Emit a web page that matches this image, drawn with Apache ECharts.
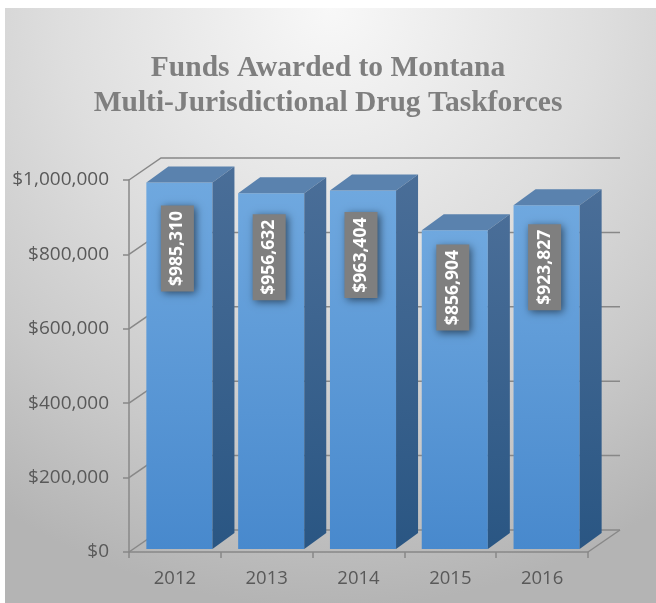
<!DOCTYPE html>
<html>
<head>
<meta charset="utf-8">
<script src="https://cdn.jsdelivr.net/npm/echarts@6/dist/echarts.min.js"></script>
<style>html,body{margin:0;padding:0;background:#fff;}#c{width:656px;height:603px;}</style>
</head>
<body>
<div id="c"></div>
<script>
const categories = ['2012', '2013', '2014', '2015', '2016'];
const funds = [985310, 956632, 963404, 856904, 923827];
const yTicks = [0, 200000, 400000, 600000, 800000, 1000000];
const titleLines = ['Funds Awarded to Montana', 'Multi-Jurisdictional Drug Taskforces'];

const fmt = v => '$' + Number(v).toLocaleString('en-US');

// 3D geometry (pixels)
const FLOOR_DX = 32, FLOOR_DY = -22;
const BAR_OFF_X = 4.5, BAR_OFF_Y = -3;
const BAR_DX = 22, BAR_DY = -16;
const BAR_FRAC = 0.72;
const GRID_COLOR = '#888888';

const chart = echarts.init(document.getElementById('c'), null, {renderer: 'canvas'});

const option = {
  animation: false,
  graphic: [{
    type: 'rect',
    z: -10,
    silent: true,
    shape: {x: 5, y: 8, width: 651, height: 600},
    style: {
      fill: new echarts.graphic.RadialGradient(0.5, 0.0, 1.0, [
        {offset: 0, color: '#f8f8f8'},
        {offset: 0.45, color: '#dedede'},
        {offset: 0.75, color: '#c9c9c9'},
        {offset: 1, color: '#b4b4b4'}
      ])
    }
  }],
  title: {
    text: titleLines.join('\n'),
    left: 'center',
    top: 46,
    textStyle: {
      fontFamily: 'Liberation Serif',
      fontWeight: 'bold',
      fontSize: 29.5,
      lineHeight: 35,
      color: '#7f7f7f'
    }
  },
  grid: {left: 129, right: 68, top: 180, bottom: 51},
  xAxis: {
    type: 'category',
    data: categories,
    axisLine: {show: true, lineStyle: {color: GRID_COLOR, width: 1.5}},
    axisTick: {show: true, length: 6, lineStyle: {color: GRID_COLOR, width: 1.5}},
    axisLabel: {color: '#595959', fontSize: 18.5, fontFamily: 'Open Sans', margin: 17},
    splitLine: {show: false}
  },
  yAxis: {
    type: 'value',
    min: 0,
    max: 1000000,
    interval: 200000,
    axisLine: {show: true, lineStyle: {color: GRID_COLOR, width: 1.5}},
    axisTick: {show: true, length: 6, lineStyle: {color: GRID_COLOR, width: 1.5}},
    axisLabel: {color: '#595959', fontSize: 19, fontFamily: 'Open Sans', margin: 20, formatter: fmt},
    splitLine: {show: false}
  },
  series: [
    {
      // walls: side wall + back wall gridlines and floor outline
      type: 'custom',
      z: 1,
      silent: true,
      data: yTicks.map(v => [0, v]),
      renderItem: function (params, api) {
        const v = api.value(1);
        const bw = api.size([1, 0])[0];
        const p0 = api.coord([0, v]);
        const pN = api.coord([categories.length - 1, v]);
        const x0 = p0[0] - bw / 2;
        const x1 = pN[0] + bw / 2;
        const y = p0[1];
        const children = [{
          type: 'polyline',
          shape: {points: [[x0, y], [x0 + FLOOR_DX, y + FLOOR_DY], [x1 + FLOOR_DX, y + FLOOR_DY]]},
          style: {stroke: GRID_COLOR, lineWidth: 1.5, fill: null}
        }];
        if (v === 0) {
          children.push({
            type: 'line',
            shape: {x1: x1, y1: y, x2: x1 + FLOOR_DX, y2: y + FLOOR_DY},
            style: {stroke: GRID_COLOR, lineWidth: 1.5}
          });
        }
        return {type: 'group', children: children};
      }
    },
    {
      type: 'custom',
      z: 2,
      data: funds.map((v, i) => [i, v]),
      renderItem: function (params, api) {
        const i = api.value(0);
        const v = api.value(1);
        const bw = api.size([1, 0])[0] * BAR_FRAC;
        const pTop = api.coord([i, v]);
        const pBot = api.coord([i, 0]);
        const cx = pTop[0] + BAR_OFF_X;
        const L = cx - bw / 2, R = cx + bw / 2;
        const T = pTop[1] + BAR_OFF_Y, B = pBot[1] + BAR_OFF_Y;
        const lx = cx - 2;
        const ly = T + 0.18 * (B - T);
        return {
          type: 'group',
          children: [
            {
              type: 'polygon',
              shape: {points: [[L, T], [R, T], [R, B], [L, B]]},
              style: {
                fill: new echarts.graphic.LinearGradient(0, 0, 0, 1, [
                  {offset: 0, color: '#6fa8df'},
                  {offset: 1, color: '#4889cd'}
                ])
              }
            },
            {
              type: 'polygon',
              shape: {points: [[L, T], [R, T], [R + BAR_DX, T + BAR_DY], [L + BAR_DX, T + BAR_DY]]},
              style: {fill: '#5a82ae'}
            },
            {
              type: 'polygon',
              shape: {points: [[R, T], [R + BAR_DX, T + BAR_DY], [R + BAR_DX, B + BAR_DY], [R, B]]},
              style: {
                fill: new echarts.graphic.LinearGradient(0, 0, 0, 1, [
                  {offset: 0, color: '#4a6e98'},
                  {offset: 1, color: '#2a5683'}
                ])
              }
            },
            {
              type: 'rect',
              shape: {x: lx - 16.5, y: ly - 43, width: 33, height: 86},
              style: {
                fill: '#7f7f7f',
                shadowBlur: 8,
                shadowColor: 'rgba(0,0,0,0.55)',
                shadowOffsetX: 2,
                shadowOffsetY: 2
              }
            },
            {
              type: 'text',
              x: lx,
              y: ly,
              rotation: Math.PI / 2,
              style: {
                text: fmt(v),
                x: 0,
                y: 0,
                align: 'center',
                verticalAlign: 'middle',
                fill: '#ffffff',
                font: 'bold 17.5px "Open Sans"'
              }
            }
          ]
        };
      }
    }
  ]
};

chart.setOption(option);
</script>
</body>
</html>
